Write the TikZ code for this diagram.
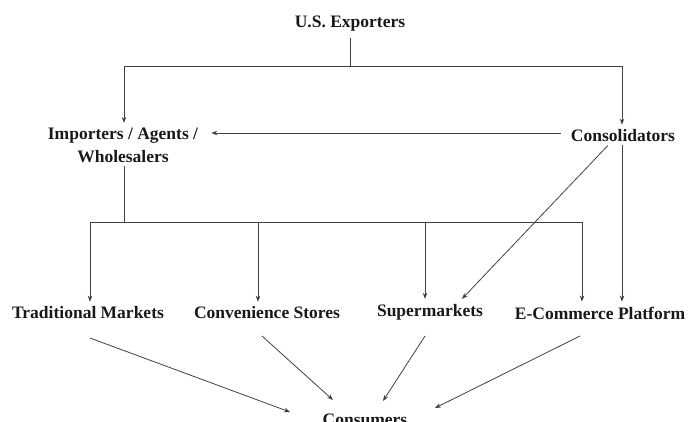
\documentclass[tikz,border=0pt]{standalone}
\usepackage{fontspec}
\setmainfont{Liberation Serif}
\usetikzlibrary{arrows.meta,calc}
\begin{document}
\begin{tikzpicture}[x=1pt,y=-1pt,
  lbl/.style={font=\fontsize{17.5}{23}\selectfont\bfseries, text=black!90, inner sep=3pt},
  conn/.style={draw=black!75, line width=0.8pt},
  arr/.style={conn, -{Stealth[length=6pt,width=4.5pt]}}]
\useasboundingbox (0,0) rectangle (688,421);
\node[lbl] (usx) at (350,24) {U.S. Exporters};
\node[lbl, align=center] (imp) at (123,145.5) {Importers / Agents /\\Wholesalers};
\node[lbl] (con) at (623,136) {Consolidators};
\node[lbl] (trad) at (88,313) {Traditional Markets};
\node[lbl] (conv) at (267,313) {Convenience Stores};
\node[lbl] (sup) at (430,312) {Supermarkets};
\node[lbl] (ecom) at (600,313) {E-Commerce Platform};
\node[lbl] (cons) at (365,420) {Consumers};
% junctions
\coordinate (j1) at (350,66);
\coordinate (j2) at (124,222);
\coordinate (b1) at (90,222);
\coordinate (b2) at (258,222);
\coordinate (b3) at (425,222);
\coordinate (b4) at (582,222);
% exporters tree
\draw[conn] ([yshift=-3pt]usx.south) -- (j1);
\draw[arr] (j1) -| ($(imp.north)+(1,-2)$);
\draw[arr] (j1) -| ($(con.north)+(-1,-2)$);
% consolidators to importers
\draw[arr] ($(con.west)+(-7,-3)$) -- ($(imp.east |- con.west)+(10,-3)$);
% importers bus
\draw[conn] ($(imp.south)+(1,0)$) -- (j2);
\draw[conn] (b1) -- (b4);
\draw[arr] (b1) -- ($(b1 |- trad.north)+(0,-2)$);
\draw[arr] (b2) -- ($(b2 |- conv.north)+(0,-2)$);
\draw[arr] (b3) -- ($(b3 |- sup.north)+(0,-2)$);
\draw[arr] (b4) -- ($(b4 |- ecom.north)+(0,-2)$);
% consolidators down
\draw[arr] ($(con.south)+(-15,0)$) -- ($(sup.north)+(32,-2)$);
\draw[arr] ($(con.south)+(-1,0)$) -- ($(con.south |- ecom.north)+(-1,-2)$);
% to consumers
\draw[arr] ($(trad)+(2,25)$) -- ($(cons)+(-75,-8)$);
\draw[arr] ($(conv)+(-5,23)$) -- ($(cons)+(-32,-20)$);
\draw[arr] ($(sup)+(-5,24)$) -- ($(cons)+(18,-19)$);
\draw[arr] ($(ecom)+(-20,23)$) -- ($(cons)+(70,-12)$);
\end{tikzpicture}
\end{document}
